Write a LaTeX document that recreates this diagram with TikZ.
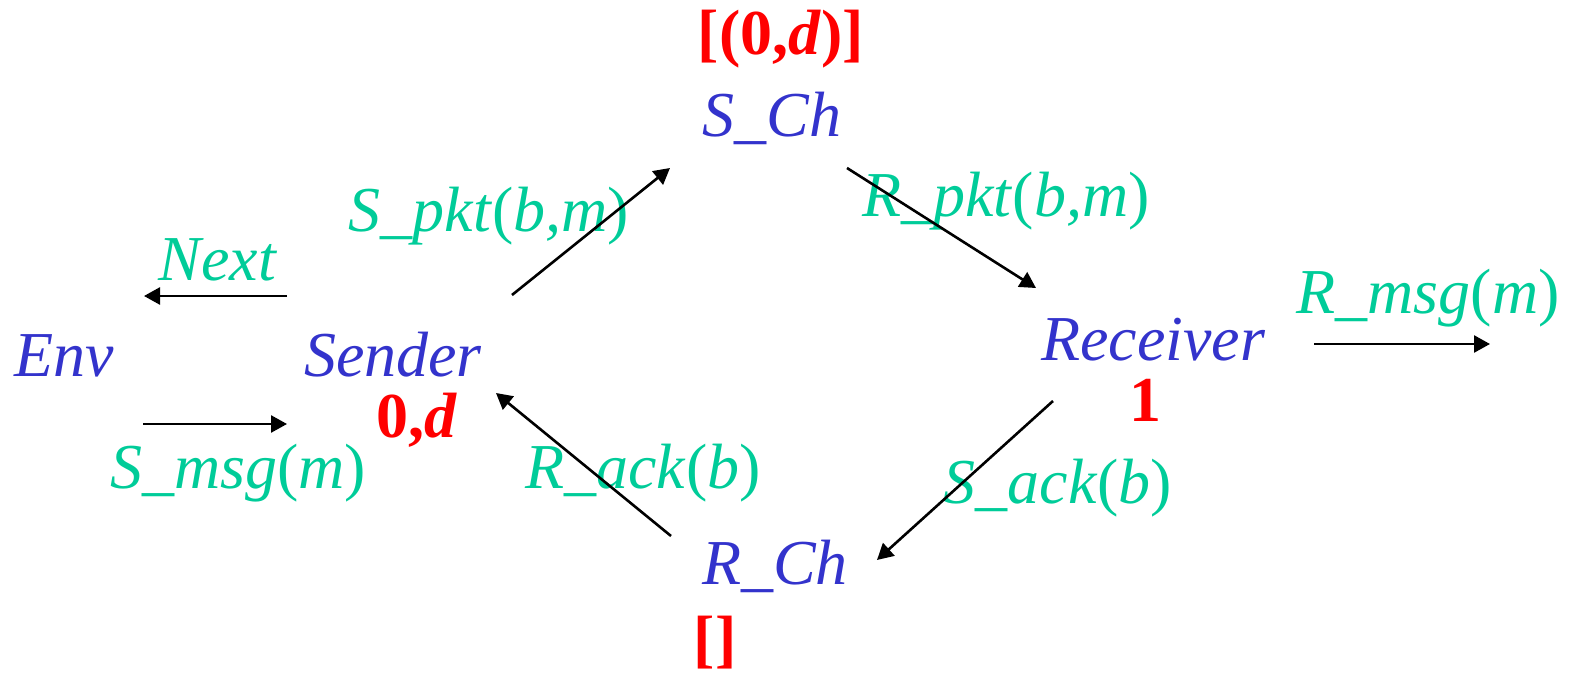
\documentclass[tikz,border=0pt]{standalone}
\usepackage{fontspec}
\setmainfont{Liberation Serif}
\usepackage{xcolor}
\usepackage{tikz}
\usetikzlibrary{arrows.meta}
\definecolor{procblue}{RGB}{51, 51, 204}
\definecolor{actgreen}{RGB}{0, 204, 153}
\definecolor{statered}{RGB}{255, 0, 0}
\newcommand{\actlabel}[2]{\textit{#1}(\textit{#2})}

\begin{document}
\begin{tikzpicture}[x=0.5pt, y=-0.5pt, >={Triangle[length=8pt, width=8.5pt]},
    proc/.style={inner sep=0pt, anchor=base, text=procblue, font=\fontsize{32}{38}\selectfont\itshape},
    action/.style={inner sep=0pt, anchor=base, text=actgreen, font=\fontsize{32}{38}\selectfont},
    state/.style={inner sep=0pt, anchor=base, text=statered, font=\fontsize{32}{38}\selectfont\bfseries},
    arrow/.style={->, line width=1.3pt, color=black}]

    \useasboundingbox (0,0) rectangle (1570,674);

    % Processes
    \node[proc] (env) at (64.5,376) {Env};
    \node[proc] (sender) at (393,376) {Sender};
    \node[proc] (sch) at (772,137) {S\_Ch};
    \node[proc] (rch) at (775,584) {R\_Ch};
    \node[proc] (receiver) at (1153,360) {Receiver};
    \coordinate (out) at (1490,344);

    % States
    \node[state] (sender_st) at (417,437) {0,\textit{d}};
    \node[state] (sch_st) at (781,55) {[(0,\textit{d})]};
    \node[state] (rch_st) at (715,660) {[]};
    \node[state] (receiver_st) at (1145,421) {1};

    % Actions
    \node[action] (next) at (218,280) {\textit{Next}};
    \node[action] (smsg) at (238,488) {\actlabel{S\_msg}{m}};
    \node[action] (spkt) at (489,231) {\actlabel{S\_pkt}{b,m}};
    \node[action] (rpkt) at (1006,217) {\actlabel{R\_pkt}{b,m}};
    \node[action] (rmsg) at (1428,313) {\actlabel{R\_msg}{m}};
    \node[action] (sack) at (1058,503) {\actlabel{S\_ack}{b}};
    \node[action] (rack) at (643,488) {\actlabel{R\_ack}{b}};

    % Connections
    \draw[arrow] ([shift={(-106,-80)}]sender.base) -- ([shift={(79.5,-80)}]env.base);
    \draw[arrow] ([shift={(78.5,48)}]env.base) -- ([shift={(-106,48)}]sender.base);
    \draw[arrow] ([shift={(119,-81)}]sender.base) -- ([shift={(-102,31)}]sch.base);
    \draw[arrow] ([shift={(75,31)}]sch.base) -- ([shift={(-117,-72)}]receiver.base);
    \draw[arrow] ([shift={(161,-16)}]receiver.base) -- (out);
    \draw[arrow] ([shift={(-100,41)}]receiver.base) -- ([shift={(102,-24)}]rch.base);
    \draw[arrow] ([shift={(-104,-48)}]rch.base) -- ([shift={(103,17)}]sender.base);
\end{tikzpicture}
\end{document}
